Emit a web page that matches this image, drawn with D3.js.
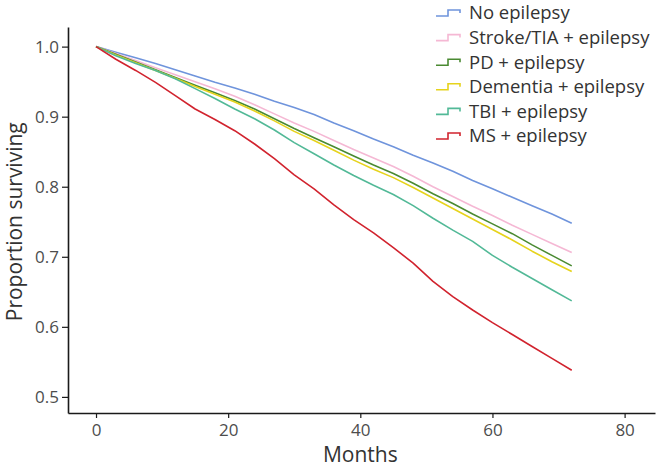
<!DOCTYPE html>
<html>
<head>
<meta charset="utf-8">
<script src="https://cdn.jsdelivr.net/npm/d3@7"></script>
<style>
  html, body { margin: 0; padding: 0; background: #fff; }
  svg { display: block; font-family: "Open Sans", "Noto Sans", sans-serif; }
</style>
</head>
<body>
<svg id="chart" width="660" height="470"></svg>
<script>
const months = [0,3,6,9,12,15,18,21,24,27,30,33,36,39,42,45,48,51,54,57,60,63,66,69,72];
const seriesNames = ["No epilepsy","Stroke/TIA + epilepsy","PD + epilepsy","Dementia + epilepsy","TBI + epilepsy","MS + epilepsy"];
const seriesColors = ["#6f94dc","#f5b8d4","#4a8a32","#e6d31c","#52b997","#d1232e"];
const noEpilepsy = [1.000,0.992,0.984,0.976,0.967,0.958,0.949,0.941,0.932,0.922,0.913,0.903,0.891,0.880,0.868,0.857,0.845,0.834,0.822,0.809,0.797,0.785,0.773,0.761,0.748];
const strokeTIA  = [1.000,0.990,0.980,0.970,0.960,0.950,0.940,0.929,0.917,0.904,0.891,0.879,0.866,0.853,0.841,0.829,0.815,0.800,0.786,0.772,0.759,0.745,0.732,0.719,0.706];
const pd         = [1.000,0.989,0.978,0.967,0.956,0.945,0.934,0.923,0.911,0.897,0.883,0.870,0.857,0.844,0.831,0.819,0.805,0.790,0.776,0.761,0.747,0.733,0.717,0.702,0.687];
const dementia   = [1.000,0.988,0.977,0.966,0.955,0.943,0.932,0.921,0.908,0.894,0.879,0.866,0.852,0.838,0.825,0.813,0.799,0.784,0.769,0.754,0.739,0.724,0.708,0.693,0.679];
const tbi        = [1.000,0.987,0.976,0.966,0.954,0.940,0.926,0.911,0.897,0.881,0.863,0.847,0.831,0.816,0.802,0.789,0.773,0.755,0.738,0.722,0.702,0.685,0.669,0.653,0.637];
const ms         = [1.000,0.982,0.966,0.949,0.930,0.911,0.896,0.880,0.861,0.840,0.817,0.797,0.774,0.753,0.734,0.713,0.691,0.665,0.643,0.624,0.606,0.589,0.572,0.555,0.538];
const xTicks = [0,20,40,60,80];
const yTicks = [0.5,0.6,0.7,0.8,0.9,1.0];

const seriesValues = [noEpilepsy, strokeTIA, pd, dementia, tbi, ms];

const svg = d3.select("#chart");
const x = d3.scaleLinear().domain([-4.24, 84.6]).range([68, 655]);
const y = d3.scaleLinear().domain([0.477, 1.028]).range([413, 27]);

// axes
const xAxis = svg.append("g").attr("transform", `translate(0,${y(0.477)})`)
  .call(d3.axisBottom(x).tickValues(xTicks).tickFormat(d3.format("d")).tickSize(5).tickPadding(4).tickSizeOuter(0));
const yAxis = svg.append("g").attr("transform", `translate(${x(-4.24)},0)`)
  .call(d3.axisLeft(y).tickValues(yTicks).tickFormat(d3.format(".1f")).tickSize(6).tickPadding(3).tickSizeOuter(0));
[xAxis, yAxis].forEach(a => {
  a.select(".domain").attr("stroke", "#1a1a1a").attr("stroke-width", 1.6);
  a.selectAll(".tick line").attr("stroke", "#1a1a1a").attr("stroke-width", 1.2);
  a.selectAll(".tick text").attr("fill", "#4d4d4d").style("font-size", "17px")
    .style("font-family", "'Open Sans', 'Noto Sans', sans-serif");
});
xAxis.selectAll(".tick text").attr("dy", "0.8em");

// lines
const line = d3.line().x((d, i) => x(months[i])).y(d => y(d));
seriesValues.forEach((vals, k) => {
  svg.append("path").datum(vals)
    .attr("fill", "none")
    .attr("stroke", seriesColors[k])
    .attr("stroke-width", 1.6)
    .attr("stroke-linejoin", "round")
    .attr("d", line);
});

// axis titles
svg.append("text").attr("x", x(40)).attr("y", 462).attr("text-anchor", "middle")
  .attr("fill", "#333").style("font-size", "21px").text("Months");
svg.append("text").attr("transform", `translate(22,${y(0.75)}) rotate(-90)`)
  .attr("text-anchor", "middle").attr("fill", "#333").style("font-size", "21px").text("Proportion surviving");

// legend
const legend = svg.append("g");
seriesNames.forEach((name, k) => {
  const cy = 13 + k * 24.6;
  legend.append("path")
    .attr("d", `M436,${cy + 3}H448V${cy - 3}H460V${cy}`)
    .attr("fill", "none").attr("stroke", seriesColors[k]).attr("stroke-width", 1.6);
  legend.append("text").attr("x", 469).attr("y", cy).attr("dy", "0.35em")
    .attr("fill", "#333").style("font-size", "18.5px").text(name);
});
</script>
</body>
</html>
